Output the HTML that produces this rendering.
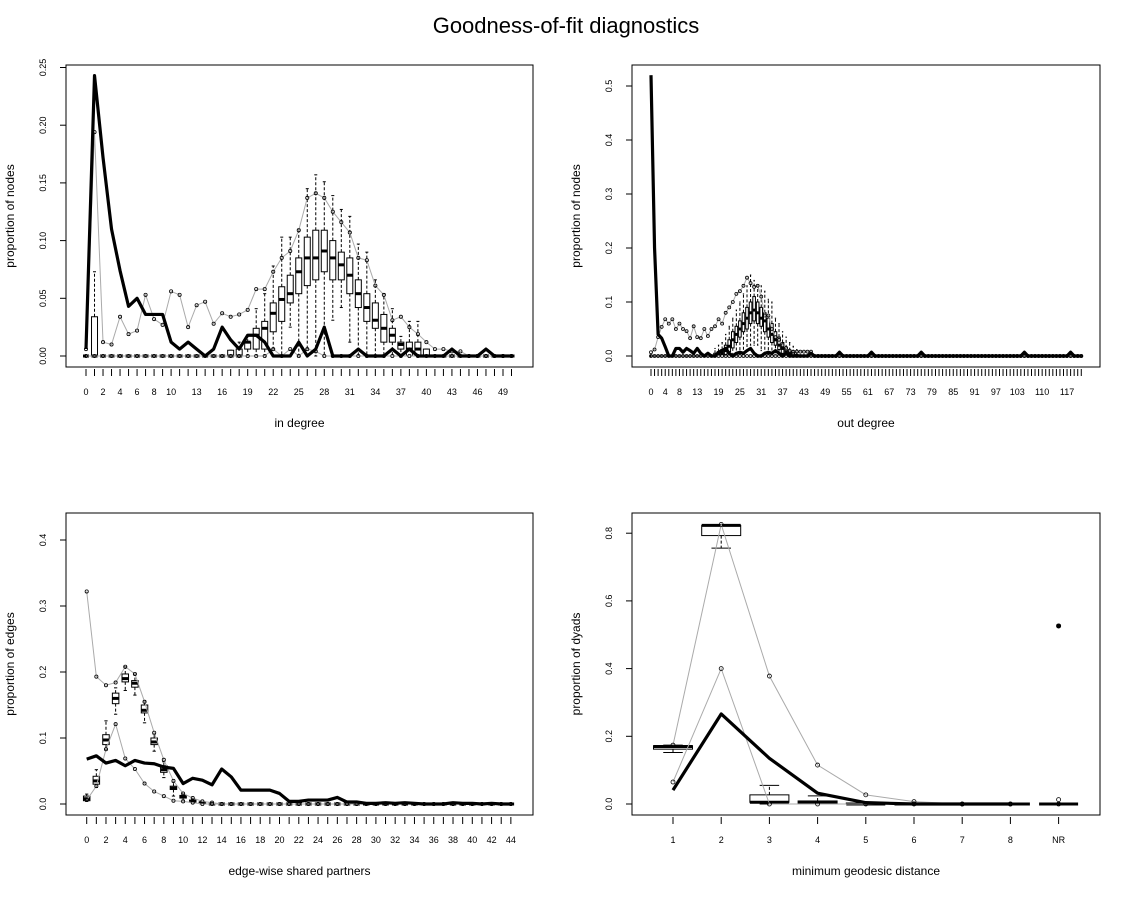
<!DOCTYPE html>
<html><head><meta charset="utf-8"><style>
html,body{margin:0;padding:0;background:#fff}
svg{display:block;font-family:"Liberation Sans",Arial,sans-serif}
</style></head><body>
<svg id="chart" width="1134" height="897" viewBox="0 0 1134 897">
<rect width="1134" height="897" fill="#fff"/>
<text x="566" y="33" text-anchor="middle" font-size="22">Goodness-of-fit diagnostics</text>
</svg>
<script>
// ---------- In degree ----------
const inLabels=["0","2","4","6","8","10","13","16","19","22","25","28","31","34","37","40","43","46","49"];
const inObs=[.006,.243,.172,.11,.074,.043,.05,.036,.036,.036,.012,.006,.012,.006,0,.006,.025,.014,.006,.018,.018,.012,0,0,0,.012,0,.006,.025,0,0,0,.006,0,0,0,.006,0,.006,0,0,0,0,.006,0,0,0,.006,0,0,0];
const inUpper=[.006,.194,.012,.01,.034,.019,.022,.053,.032,.027,.056,.053,.025,.044,.047,.028,.037,.034,.036,.040,.058,.058,.073,.085,.091,.109,.137,.141,.137,.125,.116,.107,.085,.083,.061,.053,.031,.034,.025,.019,.012,.006,.006,.004,.004,0,0,0,0,0,0];
const inLower=[0,0,0,0,0,0,0,0,0,0,0,0,0,0,0,0,0,0,0,0,0,0,.006,0,.006,0,.006,.004,0,0,0,0,0,0,0,0,0,0,0,0,0,0,0,0,0,0,0,0,0,0,0];
const inQ1=[0,0,0,0,0,0,0,0,0,0,0,0,0,0,0,0,0,0,0,.006,.006,.006,.021,.030,.046,.054,.061,.066,.073,.066,.066,.054,.042,.030,.024,.012,.012,.006,0,0,0,0,0,0,0,0,0,0,0,0,0];
const inMed=[0,0,0,0,0,0,0,0,0,0,0,0,0,0,0,0,0,0,0,.012,.018,.024,.037,.049,.054,.073,.085,.085,.091,.085,.079,.070,.054,.042,.031,.024,.018,.010,.006,.006,0,0,0,0,0,0,0,0,0,0,0];
const inQ3=[0,.034,0,0,0,0,0,0,0,0,0,0,0,0,0,0,0,.005,.006,.012,.024,.030,.046,.060,.070,.085,.103,.109,.109,.100,.090,.085,.066,.054,.046,.036,.024,.012,.012,.012,.006,0,0,0,0,0,0,0,0,0,0];
const inWlo=[0,0,0,0,0,0,0,0,0,0,0,0,0,0,0,0,0,0,0,0,0,0,.006,0,.025,0,.006,0,0,.031,.042,.012,0,0,0,0,0,0,0,0,0,0,0,0,0,0,0,0,0,0,0];
const inWhi=[0,.073,0,0,0,0,0,0,0,0,0,0,0,0,0,0,0,.005,.012,.018,.041,.054,.078,.103,.103,.110,.145,.157,.151,.139,.127,.121,.097,.090,.066,.054,.041,.017,.030,.030,.006,0,0,0,0,0,0,0,0,0,0];
const inTicks=[0,.05,.1,.15,.2,.25];
const inTickLabels=["0.00","0.05","0.10","0.15","0.20","0.25"];

// ---------- Out degree ----------
const outLabels=["0","4","8","13","19","25","31","37","43","49","55","61","67","73","79","85","91","97","103","110","117"];
const outObs=[.52,.2,.04,.033,.017,0,0,.014,.014,.007,
.014,.01,.005,.014,.005,0,.005,0,0,.007,
.01,.014,.005,0,.005,.007,.005,.01,.014,.005,
0,0,.005,.007,.005,.01,.005,0,.005,0,
0,0,0,0,0,.005,0,0,0,0,
0,0,0,.007,0,0,0,0,0,0,
0,0,.007,0,0,0,0,0,0,0,
0,0,0,0,0,0,.007,0,0,0,
0,0,0,0,0,0,0,0,0,0,
0,0,0,0,0,0,0,0,0,0,
0,0,0,0,0,.007,0,0,0,0,
0,0,0,0,0,0,0,0,.007,0,
0,0];
const outUpper=[.007,.012,.035,.054,.068,.06,.068,.05,.06,.05,
.046,.033,.055,.035,.033,.05,.037,.05,.055,.068,
.06,.08,.09,.1,.115,.12,.13,.145,.135,.128,
.13,.11,.075,.075,.05,.035,.03,.02,.015,.01,
.008,.008,.008,.008,.008,.008,0,0,0,0,
0,0,0,0,0,0,0,0,0,0,0,0,0,0,0,0,0,0,0,0,
0,0,0,0,0,0,0,0,0,0,0,0,0,0,0,0,0,0,0,0,
0,0,0,0,0,0,0,0,0,0,0,0,0,0,0,0,0,0,0,0,
0,0,0,0,0,0,0,0,0,0,0,0];
const outLower=[0,0,0,0,0,0,0,0,0,0,0,0,0,0,0,0,0,0,0,0,
0,0,0,0,0,0,0,0,0,0,0,0,0,0,0,0,0,0,0,0,
0,0,0,0,0,0,0,0,0,0,0,0,0,0,0,0,0,0,0,0,
0,0,0,0,0,0,0,0,0,0,0,0,0,0,0,0,0,0,0,0,
0,0,0,0,0,0,0,0,0,0,0,0,0,0,0,0,0,0,0,0,
0,0,0,0,0,0,0,0,0,0,0,0,0,0,0,0,0,0,0,0,0,0];
const outBoxCats=[18,19,20,21,22,23,24,25,26,27,28,29,30,31,32,33,34,35,36,37,38,39,40,41];
const outQ1=[0,0,0,.003,.008,.015,.025,.035,.045,.05,.06,.065,.06,.055,.045,.035,.025,.02,.012,.005,.003,0,0,0];
const outMed=[0,.004,.005,.01,.018,.03,.04,.05,.06,.07,.08,.085,.08,.07,.065,.05,.04,.03,.02,.014,.008,.004,0,0];
const outQ3=[.005,.008,.012,.02,.03,.045,.055,.065,.08,.09,.1,.11,.1,.09,.08,.07,.06,.045,.035,.025,.015,.01,.006,.003];
const outWlo=[0,0,0,0,0,0,0,0,0,.01,.02,.02,.02,.01,0,0,0,0,0,0,0,0,0,0];
const outWhi=[.014,.02,.025,.04,.055,.07,.085,.1,.115,.13,.15,.14,.13,.13,.12,.105,.1,.07,.06,.045,.035,.025,.018,.012];
const outTicks=[0,.1,.2,.3,.4,.5];
const outTickLabels=["0.0","0.1","0.2","0.3","0.4","0.5"];

// ---------- Edge-wise shared partners ----------
const espLabels=["0","2","4","6","8","10","12","14","16","18","20","22","24","26","28","30","32","34","36","38","40","42","44"];
const espObs=[.068,.073,.062,.066,.058,.066,.062,.061,.056,.054,.031,.039,.036,.029,.053,.041,.021,.021,.021,.021,.016,.004,.004,.006,.006,.006,.01,.003,.003,.001,.001,.002,.001,.002,.001,0,0,0,.002,.001,.001,0,.001,0,0];
const espUpper=[.322,.193,.18,.184,.208,.197,.155,.108,.067,.035,.016,.009,.004,.002,0,0,0,0,0,0,0,0,0,0,0,0,0,0,0,0,0,0,0,0,0,0,0,0,0,0,0,0,0,0,0];
const espLower=[.006,.027,.083,.121,.069,.053,.031,.019,.012,.005,.004,.002,0,0,0,0,0,0,0,0,0,0,0,0,0,0,0,0,0,0,0,0,0,0,0,0,0,0,0,0,0,0,0,0,0];
const espQ1=[.005,.03,.09,.152,.185,.177,.138,.09,.048,.022,.009,.003,.001,0,0,0,0,0,0,0,0,0,0,0,0,0,0,0,0,0,0,0,0,0,0,0,0,0,0,0,0,0,0,0,0];
const espMed=[.008,.035,.097,.16,.19,.183,.142,.094,.052,.024,.011,.004,.002,0,0,0,0,0,0,0,0,0,0,0,0,0,0,0,0,0,0,0,0,0,0,0,0,0,0,0,0,0,0,0,0];
const espQ3=[.012,.042,.105,.168,.197,.187,.15,.1,.058,.027,.013,.006,.003,0,0,0,0,0,0,0,0,0,0,0,0,0,0,0,0,0,0,0,0,0,0,0,0,0,0,0,0,0,0,0,0];
const espWlo=[.004,.025,.083,.136,.172,.165,.123,.08,.04,.012,.006,.002,0,0,0,0,0,0,0,0,0,0,0,0,0,0,0,0,0,0,0,0,0,0,0,0,0,0,0,0,0,0,0,0,0];
const espWhi=[.015,.052,.126,.176,.208,.197,.156,.106,.064,.033,.016,.008,.004,0,0,0,0,0,0,0,0,0,0,0,0,0,0,0,0,0,0,0,0,0,0,0,0,0,0,0,0,0,0,0,0];
const espTicks=[0,.1,.2,.3,.4];
const espTickLabels=["0.0","0.1","0.2","0.3","0.4"];

// ---------- Geodesic distance ----------
const geoLabels=["1","2","3","4","5","6","7","8","NR"];
const geoObs=[.041,.266,.135,.032,.004,0,0,0];
const geoObsNR=.526;
const geoUpper=[.174,.826,.378,.115,.027,.007,0,0];
const geoLower=[.065,.40,0,0,0,0,0,0];
const geoUpperNR=.013;
const geoLowerNR=0;
const geoQ1=[.162,.793,.005,0,0,0,0,0,0];
const geoMed=[.170,.823,.005,.004,0,0,0,0,0];
const geoQ3=[.172,.823,.027,.009,.003,0,0,0,0];
const geoWlo=[.152,.756,0,0,0,0,0,0,0];
const geoWhi=[.174,.823,.055,.024,.003,0,0,0,0];
const geoTicks=[0,.2,.4,.6,.8];
const geoTickLabels=["0.0","0.2","0.4","0.6","0.8"];

const NS="http://www.w3.org/2000/svg";
const svg=document.getElementById('chart');
function mk(tag,attrs,parent){const e=document.createElementNS(NS,tag);for(const k in attrs)e.setAttribute(k,attrs[k]);(parent||svg).appendChild(e);return e;}

function panel(L,D){
  const g=mk('g',{});
  
  
  const xs=k=>L.cx0+k*L.dx;
  const ys=v=>L.yz-v*L.ppu;
  const frame=mk('rect',{x:L.bx0,y:L.by0,width:L.bx1-L.bx0,height:L.by1-L.by0,fill:'none',stroke:'#000','stroke-width':1},g);
  
  
  D.yticks.forEach((v,i)=>{
    const y=ys(v);
    const t=mk('line',{x1:L.bx0-6,x2:L.bx0,y1:y,y2:y,stroke:'#000'},g);
    
    
    const tx=mk('text',{x:0,y:0,'font-size':9,'text-anchor':'middle',transform:`translate(${L.bx0-20},${y}) rotate(-90)`},g);
    tx.textContent=D.yticklabels[i];
    
    
  });
  const yt=mk('text',{x:0,y:0,'font-size':12,'text-anchor':'middle',transform:`translate(${L.bx0-52},${(L.by0+L.by1)/2}) rotate(-90)`},g);
  yt.textContent=D.ytitle;
  
  
  for(let k=0;k<D.ncat;k++){
    const x=xs(k);
    const t=mk('line',{x1:x,x2:x,y1:L.by1+2,y2:L.by1+9,stroke:'#000'},g);
    
    
  }
  D.xlabels.forEach((lab)=>{
    const k=D.labelPos(lab);
    const tx=mk('text',{x:xs(k),y:L.by1+28,'font-size':9,'text-anchor':'middle'},g);
    tx.textContent=lab;
    
    
  });
  const xt=mk('text',{x:(L.bx0+L.bx1)/2,y:L.by1+60,'font-size':12,'text-anchor':'middle'},g);
  xt.textContent=D.xtitle;
  
  
  const hw=L.bw/2;
  D.boxes.forEach(b=>{
    const x=xs(b.k);
    const bg=mk('g',{},g);
    
    
    mk('line',{x1:x,x2:x,y1:ys(b.q3),y2:ys(b.whi),stroke:'#000','stroke-dasharray':'3,2'},bg);
    mk('line',{x1:x,x2:x,y1:ys(b.q1),y2:ys(b.wlo),stroke:'#000','stroke-dasharray':'3,2'},bg);
    mk('line',{x1:x-hw/2,x2:x+hw/2,y1:ys(b.whi),y2:ys(b.whi),stroke:'#000'},bg);
    mk('line',{x1:x-hw/2,x2:x+hw/2,y1:ys(b.wlo),y2:ys(b.wlo),stroke:'#000'},bg);
    mk('rect',{x:x-hw,y:ys(b.q3),width:L.bw,height:Math.max(0,ys(b.q1)-ys(b.q3)),fill:'#fff',stroke:'#000'},bg);
    mk('line',{x1:x-hw,x2:x+hw,y1:ys(b.med),y2:ys(b.med),stroke:'#000','stroke-width':3},bg);
  });
  [['upper-quantile-line',D.upper],['lower-quantile-line',D.lower]].forEach(([nm,arr])=>{
    const p=mk('polyline',{points:arr.map((v,k)=>xs(k)+','+ys(v)).join(' '),fill:'none',stroke:'#aaa','stroke-width':1},g);
    
    
    arr.forEach((v,k)=>{
      const c=mk('circle',{cx:xs(k),cy:ys(v),r:L.r,fill:'none',stroke:'#000','stroke-width':0.8},g);
      
      
    });
  });
  const o=mk('polyline',{points:D.obs.map((v,k)=>xs(k)+','+ys(v)).join(' '),fill:'none',stroke:'#000','stroke-width':3.2,'stroke-linejoin':'round'},g);
  
  
  return {g,xs,ys};
}
function boxesFrom(cats,q1,med,q3,wlo,whi){return cats.map((k,i)=>({k,q1:q1[i],med:med[i],q3:q3[i],wlo:wlo[i],whi:whi[i]}));}
const idx=n=>{const a=[];for(let i=0;i<n;i++)a.push(i);return a;};

panel({name:'in-degree-panel',bx0:66,bx1:533,by0:65,by1:367,cx0:86,dx:8.51,yz:356,ppu:1154,bw:6,r:1.6},
 {ncat:inObs.length,xlabels:inLabels,labelPos:l=>+l,yticks:inTicks,yticklabels:inTickLabels,ytitle:'proportion of nodes',xtitle:'in degree',
  boxes:boxesFrom(idx(inObs.length),inQ1,inMed,inQ3,inWlo,inWhi),upper:inUpper,lower:inLower,obs:inObs});

const outAllCats=idx(outObs.length).filter(k=>outBoxCats.indexOf(k)<0);
panel({name:'out-degree-panel',bx0:632,bx1:1100,by0:65,by1:367,cx0:651,dx:3.556,yz:356,ppu:540,bw:2.6,r:1.5},
 {ncat:outObs.length,xlabels:outLabels,labelPos:l=>+l,yticks:outTicks,yticklabels:outTickLabels,ytitle:'proportion of nodes',xtitle:'out degree',
  boxes:boxesFrom(outAllCats,outAllCats.map(()=>0),outAllCats.map(()=>0),outAllCats.map(()=>0),outAllCats.map(()=>0),outAllCats.map(()=>0)).concat(boxesFrom(outBoxCats,outQ1,outMed,outQ3,outWlo,outWhi)),
  upper:outUpper,lower:outLower,obs:outObs});

panel({name:'edgewise-shared-partners-panel',bx0:66,bx1:533,by0:513,by1:815,cx0:86.7,dx:9.64,yz:804,ppu:660,bw:6.5,r:1.6},
 {ncat:espObs.length,xlabels:espLabels,labelPos:l=>+l,yticks:espTicks,yticklabels:espTickLabels,ytitle:'proportion of edges',xtitle:'edge-wise shared partners',
  boxes:boxesFrom(idx(espObs.length),espQ1,espMed,espQ3,espWlo,espWhi),upper:espUpper,lower:espLower,obs:espObs});

const gp=panel({name:'geodesic-distance-panel',bx0:632,bx1:1100,by0:513,by1:815,cx0:673,dx:48.2,yz:804,ppu:338.5,bw:39,r:2},
 {ncat:geoLabels.length,xlabels:geoLabels,labelPos:l=>geoLabels.indexOf(l),yticks:geoTicks,yticklabels:geoTickLabels,ytitle:'proportion of dyads',xtitle:'minimum geodesic distance',
  boxes:boxesFrom(idx(geoLabels.length),geoQ1,geoMed,geoQ3,geoWlo,geoWhi),upper:geoUpper,lower:geoLower,obs:geoObs});
const nrK=geoLabels.length-1;
[geoUpperNR,geoLowerNR].forEach(v=>{
  const c=mk('circle',{cx:gp.xs(nrK),cy:gp.ys(v),r:2,fill:'none',stroke:'#000','stroke-width':0.8},gp.g);
  
  
});
const nrp=mk('circle',{cx:gp.xs(nrK),cy:gp.ys(geoObsNR),r:2.5,fill:'#000'},gp.g);


</script>
</body></html>
